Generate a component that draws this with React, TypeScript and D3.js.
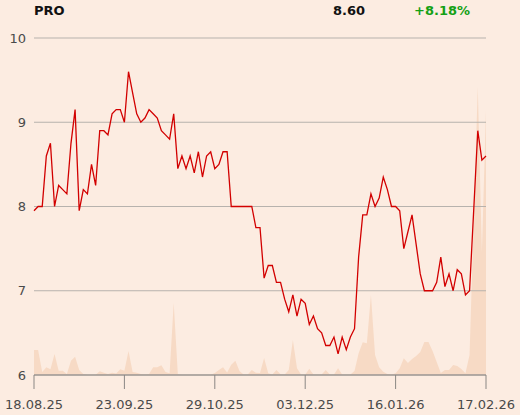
import React from "react";
import * as d3 from "d3";

const prices: number[] = [
  7.95, 8.0, 8.0, 8.6, 8.75, 8.0, 8.25, 8.2, 8.15, 8.75,
  9.15, 7.95, 8.2, 8.15, 8.5, 8.25, 8.9, 8.9, 8.85, 9.1,
  9.15, 9.15, 9.0, 9.6, 9.35, 9.1, 9.0, 9.05, 9.15, 9.1,
  9.05, 8.9, 8.85, 8.8, 9.1, 8.45, 8.6, 8.45, 8.6, 8.4,
  8.65, 8.35, 8.6, 8.65, 8.45, 8.5, 8.65, 8.65, 8.0, 8.0,
  8.0, 8.0, 8.0, 8.0, 7.75, 7.75, 7.15, 7.3, 7.3, 7.1,
  7.1, 6.9, 6.75, 6.95, 6.7, 6.9, 6.85, 6.6, 6.7, 6.55,
  6.5, 6.35, 6.35, 6.45, 6.25, 6.45, 6.3, 6.45, 6.55, 7.4,
  7.9, 7.9, 8.15, 8.0, 8.1, 8.35, 8.2, 8.0, 8.0, 7.95,
  7.5, 7.7, 7.9, 7.55, 7.2, 7.0, 7.0, 7.0, 7.1, 7.4,
  7.05, 7.2, 7.0, 7.25, 7.2, 6.95, 7.0, 7.95, 8.9, 8.55,
  8.6,
];

const volumes: number[] = [
  25, 25, 3, 7.7, 5.7, 21, 4.3, 4.3, 1, 14.3,
  18.3, 5, 1, 0.3, 0.3, 0.3, 3.7, 2.3, 1, 2.3,
  1.5, 5.7, 4.3, 24, 3, 2.3, 1, 0.5, 1, 7.7,
  7.7, 9.7, 3, 1.7, 72, 1, 0.3, 0.3, 0.3, 0.3,
  0.3, 0.3, 0.3, 0.3, 2, 5, 7.7, 2.5, 10.3, 14.3,
  4, 0.5, 0.5, 5, 2.3, 2, 17, 1.7, 0.5, 5,
  0.8, 0.5, 5, 35, 6.7, 0.5, 0.5, 6.3, 0.5, 0.5,
  0.5, 5, 0.5, 0.5, 6.7, 0.5, 0.5, 0.5, 4, 21.7,
  32.7, 31.7, 80, 20, 7.7, 3.3, 1, 0.5, 1.7, 6.7,
  16.7, 12, 16, 19, 23, 33, 33, 24, 13, 2,
  5, 5, 10, 9, 6, 1.7, 20, 154, 288, 123,
  265,
];

const tickIndex: number[] = [0, 22, 44, 66, 88, 110];
const tickLabels: string[] = ["18.08.25", "23.09.25", "29.10.25", "03.12.25", "16.01.26", "17.02.26"];
const yTicks: number[] = [6, 7, 8, 9, 10];

const title = "PRO";
const lastPrice = "8.60";
const change = "+8.18%";

export default function App() {
  const W = 520;
  const H = 415;
  const left = 34;
  const right = 486;
  const top = 38;
  const bottom = 375;

  const x = d3.scaleLinear().domain([0, prices.length - 1]).range([left, right]);
  const y = d3.scaleLinear().domain([6, 10]).range([bottom, top]);
  const v = d3.scaleLinear().domain([0, 300]).range([bottom, bottom - 300]);

  const line = d3
    .line<number>()
    .x((_, i) => x(i))
    .y((d) => y(d));
  const area = d3
    .area<number>()
    .x((_, i) => x(i))
    .y0(bottom)
    .y1((d) => v(d));

  const font = "DejaVu Sans, sans-serif";

  return (
    <svg
      width={W}
      height={H}
      style={{ position: "absolute", left: 0, top: 0, display: "block" }}
      fontFamily={font}
    >
      <rect x={0} y={0} width={W} height={H} fill="#fcece1" />
      <path d={area(volumes) || ""} fill="#f7dac5" stroke="none" />
      {yTicks.map((t) => (
        <g key={t}>
          <line x1={left} x2={right} y1={y(t)} y2={y(t)} stroke="#b7b2ad" strokeWidth={1} />
          <text x={26} y={y(t)} dy="0.36em" textAnchor="end" fontSize={13} fill="#4a4a4a">
            {t}
          </text>
        </g>
      ))}
      <line x1={left} x2={right} y1={bottom} y2={bottom} stroke="#8a8784" strokeWidth={1} />
      {tickIndex.map((ti, k) => (
        <g key={ti}>
          <line x1={x(ti)} x2={x(ti)} y1={bottom} y2={bottom + 14} stroke="#8a8784" strokeWidth={1} />
          <text x={x(ti)} y={409} textAnchor="middle" fontSize={13} fill="#4a4a4a">
            {tickLabels[k]}
          </text>
        </g>
      ))}
      <path d={line(prices) || ""} fill="none" stroke="#d20000" strokeWidth={1.3} strokeLinejoin="miter" />
      <text x={34} y={14.5} fontSize={13} fontWeight="bold" fill="#111">
        {title}
      </text>
      <text x={365} y={14.5} fontSize={13} fontWeight="bold" fill="#111" textAnchor="end">
        {lastPrice}
      </text>
      <text x={470} y={14.5} fontSize={13} fontWeight="bold" fill="#14a014" textAnchor="end">
        {change}
      </text>
    </svg>
  );
}
